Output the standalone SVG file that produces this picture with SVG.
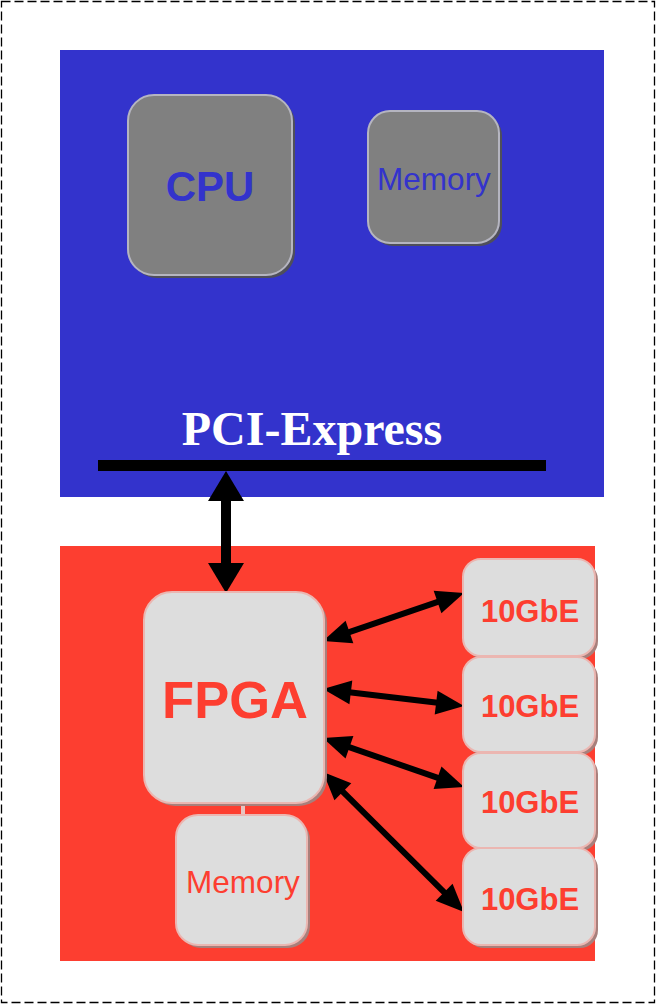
<svg xmlns="http://www.w3.org/2000/svg" width="656" height="1005" viewBox="0 0 656 1005">
<style>
.bshadow{fill:#4f4f5a}
.bbox{fill:#808080;stroke:#b5b5c0;stroke-width:2}
.rshadow{fill:#a8807c}
.rbox{fill:#dddddd;stroke:#ebb6b1;stroke-width:2}
.sans{font-family:"Liberation Sans",Arial,sans-serif}
.bold{font-weight:bold}
.lbl{text-anchor:middle}
.arr{stroke:#000;stroke-width:6;fill:none;marker-start:url(#ah);marker-end:url(#ah)}
</style>
<defs>
<marker id="ah" markerUnits="userSpaceOnUse" markerWidth="28" markerHeight="24" refX="8" refY="12" orient="auto-start-reverse" overflow="visible">
<path d="M0,0 L28,12 L0,24 z" fill="#000"/>
</marker>
<marker id="ahBig" markerUnits="userSpaceOnUse" markerWidth="30" markerHeight="36" refX="8" refY="18" orient="auto-start-reverse" overflow="visible">
<path d="M0,0 L30,18 L0,36 z" fill="#000"/>
</marker>
</defs>
<rect x="0" y="0" width="656" height="1005" fill="#fff"/>
<rect id="frame" x="1.5" y="1.5" width="653" height="1001" fill="none" stroke="#000" stroke-width="1.3" stroke-dasharray="9 4"/>
<g id="host">
<rect x="60" y="50" width="544" height="447" fill="#3333cc"/>
<text x="312" y="445" class="lbl" font-family="'Liberation Serif','Times New Roman',serif" font-weight="bold" font-size="48" fill="#fff">PCI-Express</text>
<rect x="98" y="460" width="448" height="11" fill="#000"/>
</g>
<g id="cpu">
<rect x="131" y="98" width="164" height="180" rx="26" class="bshadow"/>
<rect x="128" y="95" width="164" height="180" rx="26" class="bbox"/>
<text x="210" y="201" class="sans bold lbl" font-size="42" fill="#3333cc">CPU</text>
</g>
<g id="host-memory">
<rect x="371" y="114" width="131" height="132" rx="22" class="bshadow"/>
<rect x="368" y="111" width="131" height="132" rx="22" class="bbox"/>
<text x="434" y="190" class="sans lbl" font-size="31.5" fill="#3333cc">Memory</text>
</g>
<g id="card">
<rect x="60" y="546" width="535" height="415" fill="#fd3e30"/>
</g>
<g id="connectors">
<line x1="226" y1="493" x2="226" y2="571" stroke="#000" stroke-width="10" marker-start="url(#ahBig)" marker-end="url(#ahBig)"/>
<line x1="341.9" y1="634.6" x2="445.1" y2="599.4" class="arr"/>
<line x1="342.9" y1="691.4" x2="444.1" y2="703.6" class="arr"/>
<line x1="341.9" y1="744.6" x2="445.1" y2="780.4" class="arr"/>
<line x1="337.2" y1="786.1" x2="449.8" y2="897.9" class="arr"/>
<line x1="243" y1="802" x2="243" y2="817" stroke="#e8c4c0" stroke-width="4"/>
</g>
<g id="fpga">
<rect x="147" y="595" width="180" height="211" rx="28" class="rshadow"/>
<rect x="144" y="592" width="180" height="211" rx="28" class="rbox"/>
<text x="235" y="718" class="sans bold lbl" font-size="52.5" fill="#fd3e30">FPGA</text>
</g>
<g id="fpga-memory">
<rect x="179" y="818" width="131" height="130" rx="22" class="rshadow"/>
<rect x="176" y="815" width="131" height="130" rx="22" class="rbox"/>
<text x="243" y="893" class="sans lbl" font-size="31.5" fill="#fd3e30">Memory</text>
</g>
<g id="eth1">
<rect x="466" y="562" width="132" height="97" rx="18" class="rshadow"/>
<rect x="463" y="559" width="132" height="97" rx="18" class="rbox"/>
<text x="530" y="622" class="sans bold lbl" font-size="31" fill="#fd3e30">10GbE</text>
</g>
<g id="eth2">
<rect x="466" y="660" width="132" height="95" rx="18" class="rshadow"/>
<rect x="463" y="657" width="132" height="95" rx="18" class="rbox"/>
<text x="530" y="717" class="sans bold lbl" font-size="31" fill="#fd3e30">10GbE</text>
</g>
<g id="eth3">
<rect x="466" y="756" width="132" height="95" rx="18" class="rshadow"/>
<rect x="463" y="753" width="132" height="95" rx="18" class="rbox"/>
<text x="530" y="813" class="sans bold lbl" font-size="31" fill="#fd3e30">10GbE</text>
</g>
<g id="eth4">
<rect x="466" y="851" width="132" height="97" rx="18" class="rshadow"/>
<rect x="463" y="848" width="132" height="97" rx="18" class="rbox"/>
<text x="530" y="910" class="sans bold lbl" font-size="31" fill="#fd3e30">10GbE</text>
</g>
</svg>
